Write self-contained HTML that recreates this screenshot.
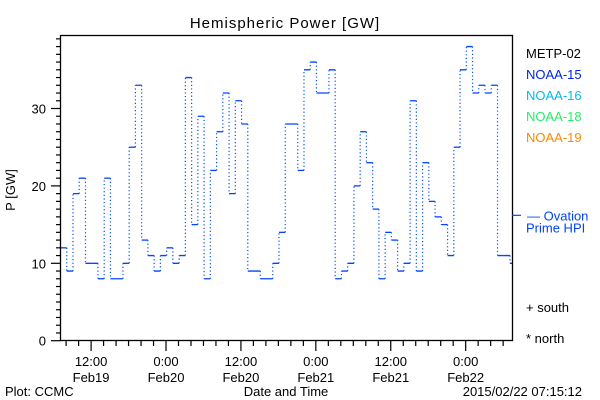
<!DOCTYPE html>
<html><head><meta charset="utf-8">
<style>
html,body{margin:0;padding:0;background:#fff;}
svg{display:block;font-family:"Liberation Sans",sans-serif;}
</style></head>
<body>
<svg id="chart" width="600" height="400" viewBox="0 0 600 400">
  <text x="285" y="28" text-anchor="middle" font-size="15" letter-spacing="1">Hemispheric Power [GW]</text>
  <text transform="translate(15,190) rotate(-90)" text-anchor="middle" font-size="13">P [GW]</text>
  <g id="yticks"></g>
  <g id="xticks"></g>
  <g id="series"></g>
  <rect x="60.5" y="35.5" width="452" height="305" fill="none" stroke="#000" stroke-width="1.3"/>
  <g font-size="13">
    <text x="526" y="58" fill="#000">METP-02</text>
    <text x="526" y="79" fill="#0022ee">NOAA-15</text>
    <text x="526" y="100" fill="#00bbee">NOAA-16</text>
    <text x="526" y="121" fill="#22ee66">NOAA-18</text>
    <text x="526" y="142" fill="#ff8800">NOAA-19</text>
    <line id="hpiline" x1="512" x2="521" stroke="#0044ff" stroke-width="1.2"/>
    <text id="hpitext1" x="527" fill="#0044ff">— Ovation</text>
    <text id="hpitext2" x="526" fill="#0044ff">Prime HPI</text>
    <text x="526" y="312" fill="#000">+ south</text>
    <text x="526" y="343" fill="#000">* north</text>
  </g>
  <text x="5" y="396" font-size="13">Plot: CCMC</text>
  <text x="286" y="396" font-size="13" text-anchor="middle">Date and Time</text>
  <text x="582" y="396" font-size="13" text-anchor="end">2015/02/22 07:15:12</text>
</svg>
<script>
const powerValues = [12,9,19,21,10,10,8,21,8,8,10,25,33,13,11,9,11,12,10,11,34,15,29,8,22,27,32,19,31,28,9,9,8,8,10,14,
  28,28,22,35,36,32,32,35,8,9,10,20,27,23,17,8,14,13,9,10,31,9,23,18,16,15,11,25,35,38,32,33,32,33,11,11,10];
const yTickLabels = ["0","10","20","30"];
const yTickValues = [0,10,20,30];
const xTickHours = [4.9,16.9,28.9,40.9,52.9,64.9];
const xTickLine1 = ["12:00","0:00","12:00","0:00","12:00","0:00"];
const xTickLine2 = ["Feb19","Feb20","Feb20","Feb21","Feb21","Feb22"];
const hpiValue = 16.2;

const NS="http://www.w3.org/2000/svg";
const X0=60.5,X1=512.5,Y0=340.7,YTOP=35.5;
const HOURS=72.4, YMAX=(Y0-YTOP)/7.74;
function xs(h){return X0+(h)*(X1-X0)/HOURS;}
function ys(v){return Y0-v*(Y0-YTOP)/YMAX;}
function mk(tag,attrs,parent){const e=document.createElementNS(NS,tag);for(const k in attrs)e.setAttribute(k,attrs[k]);parent.appendChild(e);return e;}

const yt=document.getElementById('yticks');
for(let v=0;v<=Math.floor(YMAX);v++){
  const major=v%10===0;
  const l=mk('line',{x1:major?51:56,x2:X0,y1:ys(v),y2:ys(v),stroke:'#000','stroke-width':1.2},yt);
  
  
}
yTickValues.forEach((v,i)=>{
  const t=mk('text',{x:46,y:ys(v)+5,'text-anchor':'end','font-size':13},yt);
  t.textContent=yTickLabels[i];
  
  
});

const xt=document.getElementById('xticks');
for(let h=0.9;h<HOURS;h+=2){
  const major=Math.abs(((h-4.9)%12+12)%12)<0.01;
  const l=mk('line',{x1:xs(h),x2:xs(h),y1:Y0,y2:major?351:346,stroke:'#000','stroke-width':1.2},xt);
  
  
}
xTickHours.forEach((h,i)=>{
  const t=mk('text',{x:xs(h),y:366,'text-anchor':'middle','font-size':13},xt);
  t.textContent=xTickLine1[i];
  
  
  const t2=mk('text',{x:xs(h),y:382,'text-anchor':'middle','font-size':13},xt);
  t2.textContent=xTickLine2[i];
  
  
});

const sg=document.getElementById('series');
const cp=mk('clipPath',{id:'clp'},sg);
mk('rect',{x:X0,y:YTOP,width:X1-X0,height:Y0-YTOP},cp);
const g=mk('g',{'clip-path':'url(#clp)'},sg);
powerValues.forEach((v,i)=>{
  const seg=mk('line',{x1:xs(i),x2:xs(i+1),y1:ys(v),y2:ys(v),stroke:'#0044ff','stroke-width':1.3},g);
  
  
  if(i>0){
    const vl=mk('line',{x1:xs(i),x2:xs(i),y1:ys(powerValues[i-1]),y2:ys(v),stroke:'#0050ff','stroke-width':1.2,'stroke-dasharray':'1.2 2.4'},g);
    
    
  }
});

const hy=ys(hpiValue);
const hl=document.getElementById('hpiline');hl.setAttribute('y1',hy);hl.setAttribute('y2',hy);
document.getElementById('hpitext1').setAttribute('y',hy+5);
document.getElementById('hpitext2').setAttribute('y',hy+17);
</script>
</body></html>
